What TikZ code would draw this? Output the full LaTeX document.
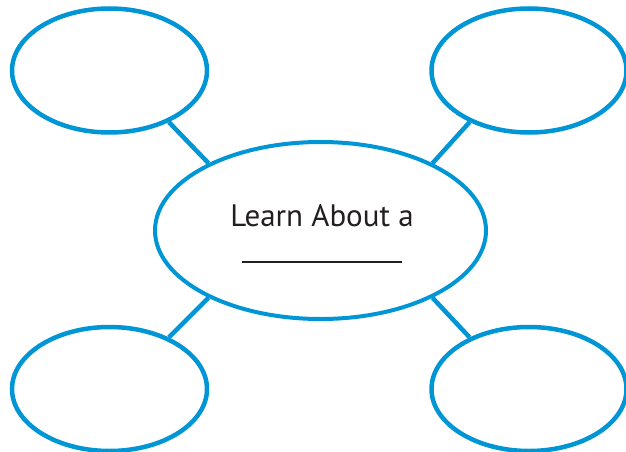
\documentclass[tikz,border=0pt]{standalone}
\usepackage{fontspec}
\setmainfont{PT Sans}
\usepackage{xcolor}
\usetikzlibrary{shapes.geometric, positioning}
\definecolor{webblue}{RGB}{0,150,214}
\definecolor{inkgray}{RGB}{35,31,32}

\begin{document}
\begin{tikzpicture}[x=1pt, y=-1pt,
    bubble/.style={ellipse, draw=webblue, line width=4.5pt, minimum width=195pt, minimum height=124pt, inner sep=0pt},
    hub/.style={ellipse, draw=webblue, line width=4pt, minimum width=331pt, minimum height=177pt, inner sep=0pt},
    spoke/.style={draw=webblue, line width=4.5pt}]
    \useasboundingbox (0,0) rectangle (626,452);
    \node(C) at (320.5,230.5) [hub] {};
    \node(TL) at (109.5,70.5) [bubble] {};
    \node(TR) at (529,70.5) [bubble] {};
    \node(BL) at (109.5,389) [bubble] {};
    \node(BR) at (529,389) [bubble] {};
    \node(T) at (322,262.7) [anchor=south, inner sep=0pt, align=center, text=inkgray, font=\fontsize{31}{36.5}\selectfont] {Learn About a\\\textcolor{inkgray}{\rule{160pt}{1.2pt}}};
    \draw[spoke] (TL.-41) -- (C.149);
    \draw[spoke] (TR.-139) -- (C.31);
    \draw[spoke] (BL.41) -- (C.-149);
    \draw[spoke] (BR.139) -- (C.-31);
\end{tikzpicture}
\end{document}
